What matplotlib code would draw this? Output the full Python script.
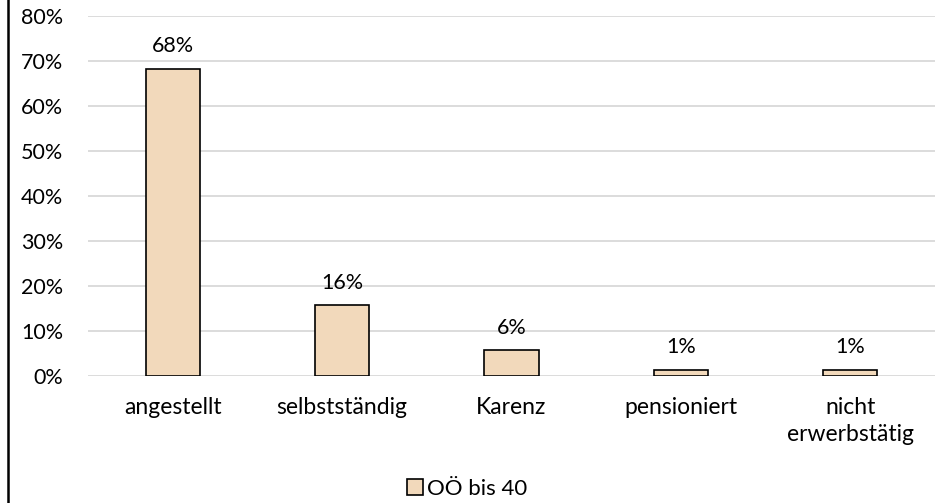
import matplotlib.pyplot as plt
from matplotlib.lines import Line2D
from matplotlib.patches import Patch

# Daten
kategorien = ["angestellt", "selbstständig", "Karenz", "pensioniert", "nicht\nerwerbstätig"]
werte = [68.2, 15.7, 5.7, 1.4, 1.4]
beschriftung = ["68%", "16%", "6%", "1%", "1%"]
y_ticks = [0, 10, 20, 30, 40, 50, 60, 70, 80]
serie = "OÖ bis 40"

plt.rcParams['font.family'] = ['Lato', 'DejaVu Sans']
fs = 15.5

fig = plt.figure(figsize=(9.35, 5.03), dpi=100)
ax = fig.add_axes([88 / 935, (503 - 376) / 503, 1 - 88 / 935, 360 / 503])

x = range(len(kategorien))
ax.bar(x, werte, width=0.32, color="#f2d9bb", edgecolor="black", linewidth=1.2, zorder=3)

for xi, w, t in zip(x, werte, beschriftung):
    ax.text(xi, w + 2.8, t, ha="center", va="bottom", fontsize=fs)

ax.set_xlim(-0.5, len(kategorien) - 0.5)
ax.set_ylim(0, 80)
ax.set_yticks(y_ticks)
ax.set_yticklabels([f"{v}%" for v in y_ticks], fontsize=fs)
ax.set_xticks(list(x))
ax.set_xticklabels(kategorien, fontsize=16.5, linespacing=1.35, va="top")
ax.tick_params(axis="x", length=0, pad=15)
ax.tick_params(axis="y", length=0, pad=18)
ax.yaxis.grid(True, color="#d9d9d9", linewidth=1.3, zorder=0)
ax.set_axisbelow(True)
for s in ax.spines.values():
    s.set_visible(False)

# Rahmen links
fig.add_artist(Line2D([7.5 / 935, 7.5 / 935], [0, 1], transform=fig.transFigure,
                      color="black", linewidth=1.8))

handle = Patch(facecolor="#f2d9bb", edgecolor="black", linewidth=1.2)
fig.legend([handle], [serie], loc="center", bbox_to_anchor=(0.5, (503 - 489) / 503),
           frameon=False, fontsize=16, handlelength=0.7, handleheight=0.7,
           handletextpad=0.2)

fig.savefig("out.png", dpi=100)
